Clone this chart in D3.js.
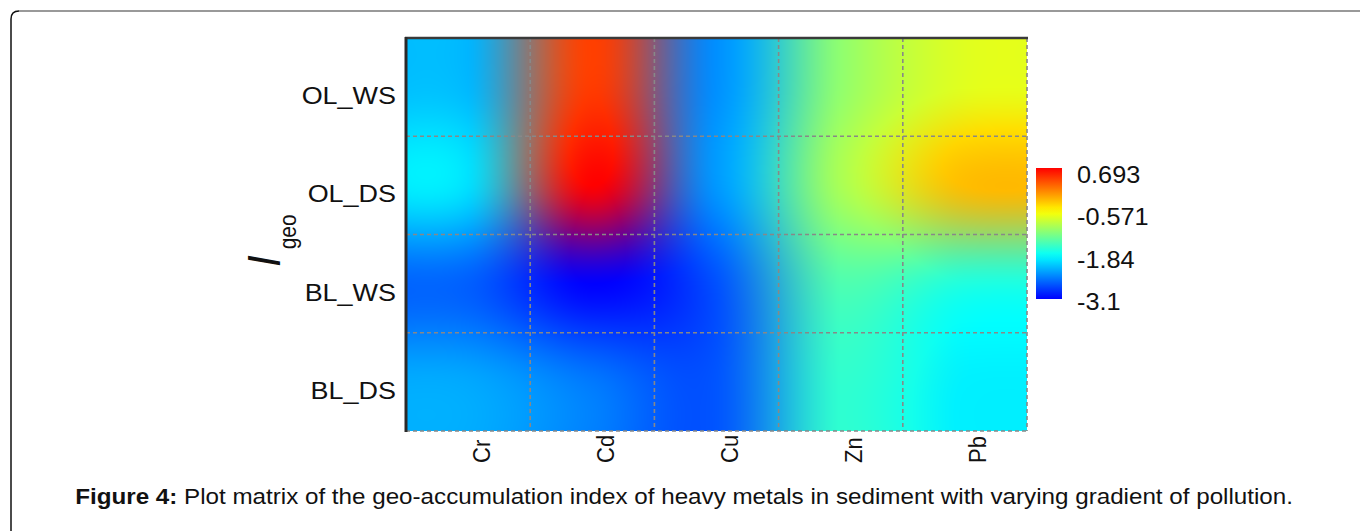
<!DOCTYPE html>
<html>
<head>
<meta charset="utf-8">
<script src="https://cdn.jsdelivr.net/npm/d3@7"></script>
<style>
  body { margin: 0; background: #fff; }
  svg { display: block; }
  text { font-family: "Liberation Sans", Arial, sans-serif; fill: #111; }
</style>
</head>
<body>
<div id="chart"></div>
<script>
// rows and columns of the matrix
var metals = ["Cr", "Cd", "Cu", "Zn", "Pb"];
var samples = ["OL_WS", "OL_DS", "BL_WS", "BL_DS"];

// Igeo values per sample, in the order of metals
var olWS = [-2.19, 0.40, -2.39, -1.12, -0.72];
var olDS = [-2.00, 0.693, -2.35, -1.00, -0.25];
var blWS = [-2.63, -3.10, -2.70, -1.45, -1.68];
var blDS = [-2.27, -2.50, -2.68, -1.60, -1.91];

var legendTicks = [0.693, -0.571, -1.84, -3.1];
var caption = "Plot matrix of the geo-accumulation index of heavy metals in sediment with varying gradient of pollution.";

var matrix = [olWS, olDS, blWS, blDS];

var width = 1360, height = 531;
var plot = {left: 406, top: 38, right: 1027, bottom: 431};
var stretch = 1.1; // text in the figure is a bit wide

var svg = d3.select("#chart").append("svg")
    .attr("width", width).attr("height", height);

// outer frame (only the top and left edges show)
svg.append("path").attr("d", "M11,531 V19 Q11,11 19,11")
    .attr("fill", "none").attr("stroke", "#111").attr("stroke-width", 1.5);
svg.append("path").attr("d", "M19,11 H1360")
    .attr("fill", "none").attr("stroke", "#777").attr("stroke-width", 1.5);

var xScale = d3.scaleBand().domain(metals).range([plot.left, plot.right]);
var yScale = d3.scaleBand().domain(samples).range([plot.top, plot.bottom]);

var color = d3.scaleLinear()
    .domain([-3.1, -1.84, -0.571, 0.693])
    .range(["#0000ff", "#00ffff", "#ffff00", "#ff0000"])
    .clamp(true);

// smooth the cell colours across the plot (bicubic in rgb)
var cellRgb = matrix.map(function(row) {
    return row.map(function(v) { return d3.rgb(color(v)); });
});

function kernel(t) {
    var a = -0.5;
    t = Math.abs(t);
    if (t <= 1) return (a + 2) * t * t * t - (a + 3) * t * t + 1;
    if (t < 2) return a * t * t * t - 5 * a * t * t + 8 * a * t - 4 * a;
    return 0;
}

var W = Math.round(plot.right - plot.left), H = Math.round(plot.bottom - plot.top);
var canvas = document.createElement("canvas");
canvas.width = W; canvas.height = H;
var ctx = canvas.getContext("2d");
var img = ctx.createImageData(W, H);
var nc = metals.length, nr = samples.length;

for (var py = 0; py < H; py++) {
    var v = (py + 0.5) / yScale.step() - 0.5;
    var j0 = Math.floor(v);
    for (var px = 0; px < W; px++) {
        var u = (px + 0.5) / xScale.step() - 0.5;
        var i0 = Math.floor(u);
        var r = 0, g = 0, b = 0, ws = 0;
        for (var dj = -1; dj <= 2; dj++) {
            var wy = kernel(v - (j0 + dj));
            var jj = Math.max(0, Math.min(nr - 1, j0 + dj));
            for (var di = -1; di <= 2; di++) {
                var wx = kernel(u - (i0 + di));
                var ii = Math.max(0, Math.min(nc - 1, i0 + di));
                var c = cellRgb[jj][ii], w = wx * wy;
                r += c.r * w; g += c.g * w; b += c.b * w; ws += w;
            }
        }
        var k = (py * W + px) * 4;
        img.data[k] = Math.max(0, Math.min(255, r / ws));
        img.data[k + 1] = Math.max(0, Math.min(255, g / ws));
        img.data[k + 2] = Math.max(0, Math.min(255, b / ws));
        img.data[k + 3] = 255;
    }
}
ctx.putImageData(img, 0, 0);

svg.append("image")
    .attr("x", plot.left).attr("y", plot.top)
    .attr("width", W).attr("height", H)
    .attr("preserveAspectRatio", "none")
    .attr("href", canvas.toDataURL());

// dashed grid at the cell borders
var grid = svg.append("g").attr("stroke", "#888").attr("stroke-width", 1.6)
    .attr("stroke-dasharray", "4,3").attr("fill", "none");
grid.selectAll(".vgrid").data(metals.slice(1)).enter().append("line")
    .attr("x1", function(d) { return xScale(d); }).attr("x2", function(d) { return xScale(d); })
    .attr("y1", plot.top).attr("y2", plot.bottom);
grid.selectAll(".hgrid").data(samples.slice(1)).enter().append("line")
    .attr("y1", function(d) { return yScale(d); }).attr("y2", function(d) { return yScale(d); })
    .attr("x1", plot.left).attr("x2", plot.right);
grid.append("line").attr("x1", plot.right).attr("x2", plot.right)
    .attr("y1", plot.top).attr("y2", plot.bottom);
grid.append("line").attr("y1", plot.bottom).attr("y2", plot.bottom)
    .attr("x1", plot.left).attr("x2", plot.right);

// dark top and left frame
svg.append("line").attr("x1", plot.left - 1).attr("x2", plot.right + 1)
    .attr("y1", plot.top).attr("y2", plot.top)
    .attr("stroke", "#3a3a3a").attr("stroke-width", 2.5);
svg.append("line").attr("x1", plot.left).attr("x2", plot.left)
    .attr("y1", plot.top - 1).attr("y2", plot.bottom + 1)
    .attr("stroke", "#2a2a2a").attr("stroke-width", 3);

// row labels
svg.selectAll(".ylab").data(samples).enter().append("text")
    .attr("class", "ylab")
    .attr("transform", function(d) {
        return "translate(396," + (yScale(d) + yScale.bandwidth() / 2 + 17) + ") scale(" + stretch + ",1)";
    })
    .attr("text-anchor", "end")
    .attr("font-size", 24.5)
    .text(function(d) { return d; });

// column labels, rotated
svg.selectAll(".xlab").data(metals).enter().append("text")
    .attr("class", "xlab")
    .attr("transform", function(d) {
        return "translate(" + (xScale(d) + xScale.bandwidth() / 2 + 13) + ",463) scale(" + stretch + ",1) rotate(-90)";
    })
    .attr("text-anchor", "start")
    .attr("dy", "0.35em")
    .attr("font-size", 22)
    .text(function(d) { return d; });

// axis title I_geo
var title = svg.append("text")
    .attr("transform", "translate(280,267) scale(" + stretch + ",1) rotate(-90)");
title.append("tspan").attr("font-size", 42).attr("font-style", "italic").text("I");
title.append("tspan").attr("font-size", 21).attr("dx", 6).attr("dy", 14.5).text("geo");

// colour legend
var bar = {x: 1036, y: 168, w: 26, h: 131};
var legendScale = d3.scaleLinear().domain(d3.extent(legendTicks))
    .range([bar.y + bar.h, bar.y]);
var grad = svg.append("defs").append("linearGradient")
    .attr("id", "legendGrad").attr("x1", 0).attr("x2", 0).attr("y1", 1).attr("y2", 0);
grad.selectAll("stop").data(d3.range(0, 1.0001, 0.05)).enter().append("stop")
    .attr("offset", function(t) { return t; })
    .attr("stop-color", function(t) { return color(legendScale.domain()[0] + t * (legendScale.domain()[1] - legendScale.domain()[0])); });
svg.append("rect").attr("x", bar.x).attr("y", bar.y).attr("width", bar.w).attr("height", bar.h)
    .attr("fill", "url(#legendGrad)");

var labelScale = d3.scaleLinear().domain(d3.extent(legendTicks))
    .range([bar.y + bar.h + 11, bar.y + 15]);
svg.selectAll(".leg").data(legendTicks).enter().append("text")
    .attr("transform", function(d) { return "translate(1077," + labelScale(d) + ") scale(" + stretch + ",1)"; })
    .attr("font-size", 23)
    .text(function(d) { return d; });

// caption
var cap = svg.append("text")
    .attr("transform", "translate(1293,504) scale(" + stretch + ",1)")
    .attr("text-anchor", "end")
    .attr("font-size", 22);
cap.append("tspan").attr("font-weight", "bold").text("Figure 4:");
cap.append("tspan").text(" " + caption);
</script>
</body>
</html>
